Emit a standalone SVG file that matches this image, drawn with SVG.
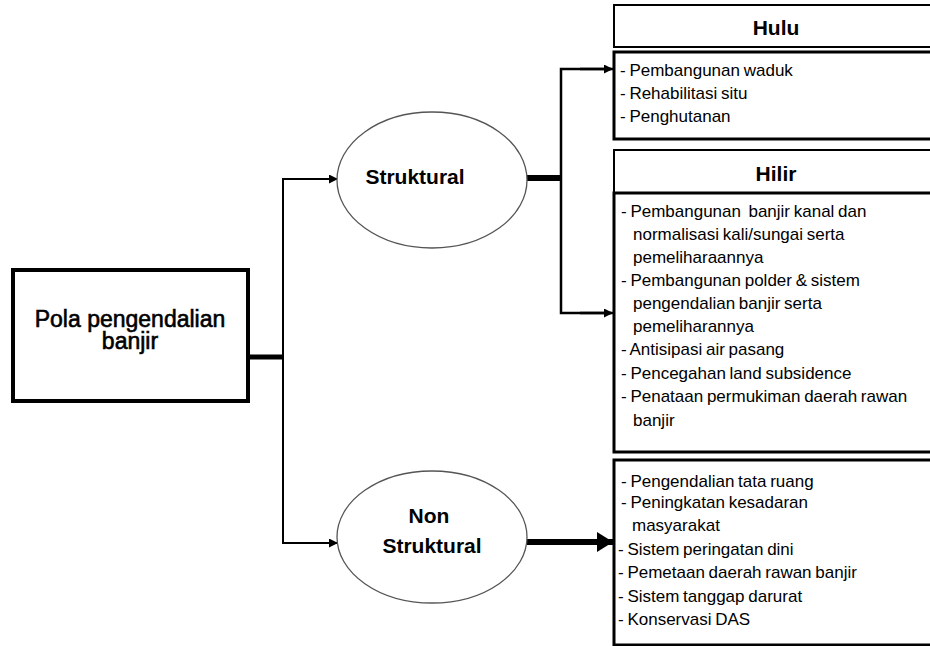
<svg xmlns="http://www.w3.org/2000/svg" width="930" height="646" viewBox="0 0 930 646">
  <style>
    .box { fill: #fff; stroke: #000; stroke-width: 3; }
    .head { fill: #fff; stroke: #000; stroke-width: 2; }
    .oval { fill: #fff; stroke: #555; stroke-width: 1.3; }
    .t { font-family: "Liberation Sans", Arial, sans-serif; fill: #000; }
    .title { font-size: 21px; font-weight: bold; text-anchor: middle; }
    .main { font-size: 23px; text-anchor: middle; stroke: #000; stroke-width: 0.6; }
    .item { font-size: 17px; word-spacing: -1px; }
    .line { fill: none; stroke: #000; stroke-width: 2; }
    .thick { fill: none; stroke: #000; stroke-width: 6; }
  </style>
  <defs>
    <marker id="arr" viewBox="0 0 10 10" refX="10" refY="5" markerWidth="9" markerHeight="9" markerUnits="userSpaceOnUse" orient="auto">
      <path d="M0,0 L10,5 L0,10 Z" fill="#000"/>
    </marker>
    <marker id="arrBig" viewBox="0 0 16 20" refX="16" refY="10" markerWidth="16" markerHeight="20" markerUnits="userSpaceOnUse" orient="auto">
      <path d="M0,0 L16,10 L0,20 Z" fill="#000"/>
    </marker>
  </defs>
  <rect width="930" height="646" fill="#fff"/>

  <g id="connectors">
    <line class="thick" x1="249" y1="357" x2="283" y2="357" style="stroke-width:5"/>
    <polyline class="line" points="337,179 283,179 283,543 337,543"/>
    <line class="line" x1="300" y1="179" x2="338" y2="179" marker-end="url(#arr)"/>
    <line class="line" x1="300" y1="543" x2="338" y2="543" marker-end="url(#arr)"/>
    <line class="thick" x1="527" y1="178" x2="561" y2="178"/>
    <polyline class="line" points="611,69 561,69 561,313 611,313" style="stroke-width:2.5"/>
    <line class="line" x1="580" y1="69" x2="613" y2="69" marker-end="url(#arr)" style="stroke-width:2.5"/>
    <line class="line" x1="580" y1="313" x2="613" y2="313" marker-end="url(#arr)" style="stroke-width:2.5"/>
    <line class="thick" x1="527" y1="542" x2="613" y2="542" marker-end="url(#arrBig)"/>
  </g>

  <g id="pola">
    <rect x="13" y="270" width="235" height="131" class="box" style="stroke-width:4"/>
    <text class="t main" x="130" y="327">Pola pengendalian</text>
    <text class="t main" x="130" y="349">banjir</text>
  </g>

  <g id="struktural">
    <ellipse cx="432" cy="180" rx="95" ry="68" class="oval"/>
    <text class="t title" x="415" y="184">Struktural</text>
  </g>

  <g id="non-struktural">
    <ellipse cx="432" cy="537" rx="95" ry="66" class="oval"/>
    <text class="t title" x="429" y="523">Non</text>
    <text class="t title" x="432" y="553">Struktural</text>
  </g>

  <g id="hulu">
    <rect x="614" y="5" width="330" height="42" class="head"/>
    <text class="t title" x="776" y="35">Hulu</text>
    <rect x="614" y="52" width="330" height="87" class="box"/>
    <text class="t item" x="620" y="76">- Pembangunan waduk</text>
    <text class="t item" x="620" y="99">- Rehabilitasi situ</text>
    <text class="t item" x="620" y="122">- Penghutanan</text>
  </g>

  <g id="hilir">
    <rect x="614" y="150" width="330" height="43" class="head"/>
    <text class="t title" x="776" y="181">Hilir</text>
    <rect x="614" y="193" width="330" height="259" class="box"/>
    <text class="t item" x="621" y="217" xml:space="preserve">- Pembangunan  banjir kanal dan</text>
    <text class="t item" x="633" y="240">normalisasi kali/sungai serta</text>
    <text class="t item" x="633" y="263">pemeliharaannya</text>
    <text class="t item" x="621" y="286">- Pembangunan polder &amp; sistem</text>
    <text class="t item" x="633" y="309">pengendalian banjir serta</text>
    <text class="t item" x="633" y="332">pemeliharannya</text>
    <text class="t item" x="621" y="355">- Antisipasi air pasang</text>
    <text class="t item" x="621" y="379">- Pencegahan land subsidence</text>
    <text class="t item" x="621" y="402">- Penataan permukiman daerah rawan</text>
    <text class="t item" x="633" y="426">banjir</text>
  </g>

  <g id="non-struktural-list">
    <rect x="614" y="460" width="330" height="185" class="box"/>
    <text class="t item" x="621" y="487">- Pengendalian tata ruang</text>
    <text class="t item" x="621" y="508">- Peningkatan kesadaran</text>
    <text class="t item" x="632" y="531">masyarakat</text>
    <text class="t item" x="618" y="555">- Sistem peringatan dini</text>
    <text class="t item" x="618" y="578">- Pemetaan daerah rawan banjir</text>
    <text class="t item" x="618" y="602">- Sistem tanggap darurat</text>
    <text class="t item" x="618" y="625">- Konservasi DAS</text>
  </g>
</svg>
